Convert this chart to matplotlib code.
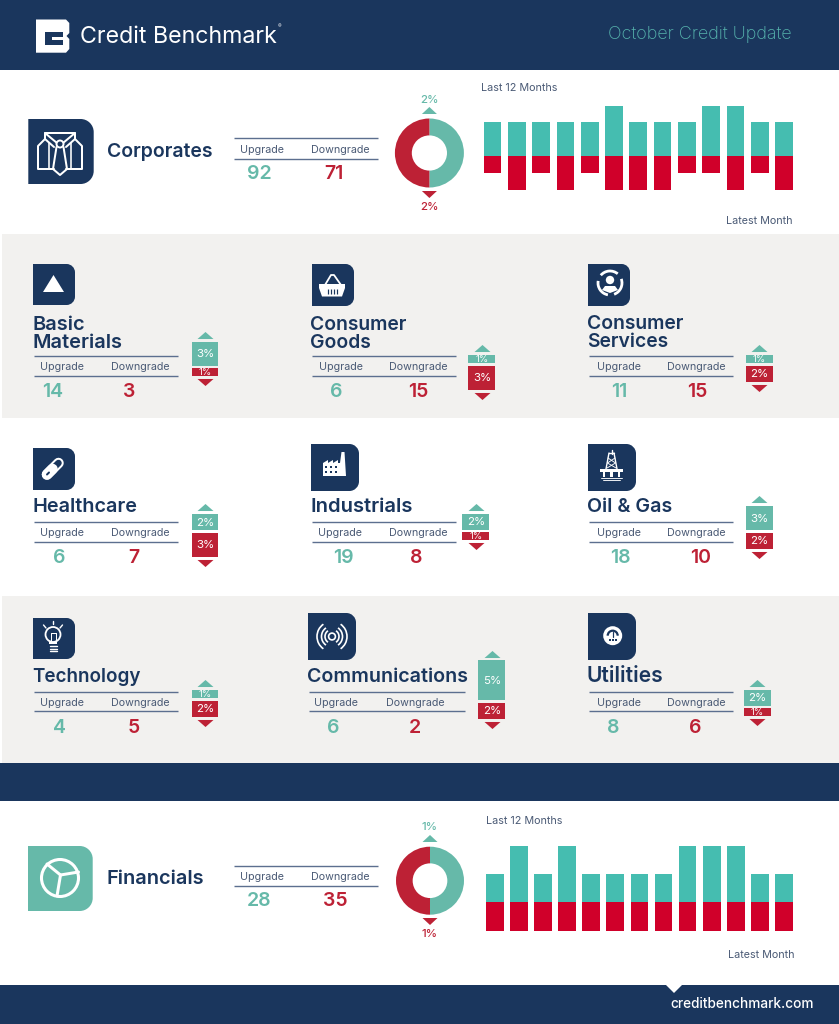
import matplotlib
matplotlib.use("Agg")
import matplotlib.pyplot as plt
import numpy as np
from matplotlib.path import Path
from matplotlib.patches import PathPatch, Polygon, Rectangle, Circle, Arc

plt.rcParams['font.family'] = ['Inter', 'DejaVu Sans']

# ---------- data ----------
corp_up_counts = 92
corp_down_counts = 71
corp_up_pct = 2
corp_down_pct = 2
corp_months_up = [2, 2, 2, 2, 2, 3, 2, 2, 2, 3, 3, 2, 2]
corp_months_down = [1, 2, 1, 2, 1, 2, 2, 2, 1, 1, 2, 1, 2]

fin_up_counts = 28
fin_down_counts = 35
fin_up_pct = 1
fin_down_pct = 1
fin_months_up = [1, 2, 1, 2, 1, 1, 1, 1, 2, 2, 2, 1, 1]
fin_months_down = [1, 1, 1, 1, 1, 1, 1, 1, 1, 1, 1, 1, 1]

sector_names = ['Basic\nMaterials', 'Consumer\nGoods', 'Consumer\nServices',
                'Healthcare', 'Industrials', 'Oil & Gas',
                'Technology', 'Communications', 'Utilities']
sector_up_counts = [14, 6, 11, 6, 19, 18, 4, 6, 8]
sector_down_counts = [3, 15, 15, 7, 8, 10, 5, 2, 6]
sector_up_pct = [3, 1, 1, 2, 2, 3, 1, 5, 2]
sector_down_pct = [1, 3, 2, 3, 1, 2, 2, 2, 1]

# ---------- style ----------
W, H = 839, 1024
NAVY = '#1a365d'
TEAL = '#66b9a9'
TEAL_BAR = '#45bdb0'
RED = '#bd2135'
RED_BAR = '#d0002a'
GREY = '#f2f1ef'
LABEL = '#4a5a75'
RULE = '#5c6f8f'

fig = plt.figure(figsize=(W / 100, H / 100), dpi=100)
bg = fig.add_axes([0, 0, 1, 1])
bg.set_xlim(0, W)
bg.set_ylim(H, 0)
bg.axis('off')


def px_axes(x0, y0, x1, y1):
    a = fig.add_axes([x0 / W, 1 - y1 / H, (x1 - x0) / W, (y1 - y0) / H])
    a.axis('off')
    a.patch.set_alpha(0)
    return a


def txt(x, y, s, size, color=NAVY, weight='normal', ha='center', **kw):
    return bg.text(x, y + 1.2, s, fontsize=size * 0.72, color=color, fontweight=weight,
                   ha=ha, va='center', **kw)


def rect(x0, y0, x1, y1, color, z=1):
    bg.add_patch(Rectangle((x0, y0), x1 - x0, y1 - y0, fc=color, ec='none', zorder=z))


def poly(pts, color='white', z=3):
    bg.add_patch(Polygon(pts, closed=True, fc=color, ec='none', zorder=z))


def line(pts, lw=1.5, color='white', z=3, cap='round'):
    xs, ys = zip(*pts)
    bg.plot(xs, ys, color=color, lw=lw * 0.72, zorder=z, solid_capstyle=cap, solid_joinstyle='round')


def icon_box(x0, y0, x1, y1, color=NAVY):
    r = (x1 - x0) * 0.2
    k = r * 0.45
    verts = [(x0, y0), (x1 - r, y0), (x1 - k, y0), (x1, y0 + k), (x1, y0 + r),
             (x1, y1 - r), (x1, y1 - k), (x1 - k, y1), (x1 - r, y1),
             (x0, y1), (x0, y0)]
    codes = [Path.MOVETO, Path.LINETO, Path.CURVE4, Path.CURVE4, Path.CURVE4,
             Path.LINETO, Path.CURVE4, Path.CURVE4, Path.CURVE4,
             Path.LINETO, Path.CLOSEPOLY]
    bg.add_patch(PathPatch(Path(verts, codes), fc=color, ec='none', zorder=2))


# ---------- bands ----------
rect(0, 0, W, 70, NAVY)
rect(2, 234, W, 418, GREY)
rect(2, 596, W, 763, GREY)
rect(0, 763, W, 801, NAVY)
rect(0, 985, W, H, NAVY)
poly([(666, 985), (682, 985), (674, 993)], 'white', 2)

# ---------- header ----------
logo = [(36, 19.5), (66, 19.5), (69.3, 23), (69.3, 33), (66.5, 36), (69.3, 39), (69.3, 49), (66, 52.7), (36, 52.7)]
poly(logo, 'white', 2)
poly([(44.5, 31.5), (63, 31.5), (63, 36.5), (52, 36.5), (52, 40), (63, 40), (63, 45), (44.5, 45)], NAVY, 3)
txt(80, 36, 'Credit Benchmark', 23.2, 'white', 'normal', ha='left')
txt(278, 25.5, '®', 5.5, 'white', ha='left')
txt(792, 33, 'October Credit Update', 18, '#57b5ae', 'light', ha='right')
txt(814, 1003, 'creditbenchmark.com', 13.6, 'white', 'medium', ha='right')


# ---------- shared drawing ----------
def table(x0, x1, y0, y1, xu, xd, vu, vd, up, down, yval):
    for y in (y0, y1):
        line([(x0, y), (x1, y)], 1.4, RULE, 3, 'butt')
    ym = (y0 + y1) / 2
    txt(xu, ym, 'Upgrade', 10.7, LABEL)
    txt(xd, ym, 'Downgrade', 10.7, LABEL)
    txt(vu, yval, str(up), 19.5, TEAL, 'semibold')
    txt(vd, yval, str(down), 19.5, RED, 'semibold')


def donut(cx, cy, r, up, down, yup, ydn, ytu, ytd):
    a = px_axes(cx - r, cy - r, cx + r, cy + r)
    a.pie([up, down], colors=[TEAL, RED], startangle=90, counterclock=False, radius=1,
          wedgeprops=dict(width=0.49, linewidth=0))
    a.set_xlim(-1, 1)
    a.set_ylim(-1, 1)
    txt(cx, yup, f'{up}%', 11.5, TEAL, 'medium')
    txt(cx, ydn, f'{down}%', 11.5, RED, 'medium')
    poly([(cx - 7.5, ytu + 7), (cx + 7.5, ytu + 7), (cx, ytu)], TEAL)
    poly([(cx - 7.5, ytd), (cx + 7.5, ytd), (cx, ytd + 7)], RED)


def month_bars(first_c, last_c, baseline, unit, width, ups, downs):
    pitch = (last_c - first_c) / (len(ups) - 1)
    x0, x1 = first_c - pitch, last_c + pitch
    top_u, bot_u = 3.5, 2.5
    a = px_axes(x0, baseline - top_u * unit, x1, baseline + bot_u * unit)
    idx = np.arange(len(ups))
    a.bar(idx, ups, width=width / pitch, color=TEAL_BAR, linewidth=0)
    a.bar(idx, [-d for d in downs], width=width / pitch, color=RED_BAR, linewidth=0)
    a.set_xlim(-1, len(ups))
    a.set_ylim(-bot_u, top_u)


def sector_bar(cx, yb, up, down):
    u = 8.0
    gap = 0.16
    ext_up, ext_dn = up + 2, down + 2
    a = px_axes(cx - 13.5, yb - ext_up * u, cx + 13.5, yb + ext_dn * u)
    a.bar(0, up, bottom=gap, width=1, color=TEAL, linewidth=0)
    a.bar(0, -down, bottom=-gap, width=1, color=RED, linewidth=0)
    a.set_xlim(-0.5, 0.5)
    a.set_ylim(-ext_dn, ext_up)
    a.plot(0, up + gap + 0.85, marker=[(-1, -0.44), (1, -0.44), (0, 0.44)], ms=11.5, color=TEAL, mew=0)
    a.plot(0, -down - gap - 0.75, marker=[(-1, 0.44), (1, 0.44), (0, -0.44)], ms=11.5, color=RED, mew=0)
    a.text(0, gap + up / 2 - 0.05, f'{up}%', color='white', ha='center', va='center',
           fontsize=(9.5 if up == 1 else 11.5) * 0.72)
    a.text(0, -gap - down / 2 - 0.05, f'{down}%', color='white', ha='center', va='center',
           fontsize=(9.5 if down == 1 else 11.5) * 0.72)


# ---------- corporates ----------
icon_box(28.3, 119, 93.7, 184)
txt(107, 150.5, 'Corporates', 19.4, NAVY, 'semibold', ha='left')
table(234, 378, 138, 159, 262, 340, 259, 334, corp_up_counts, corp_down_counts, 173)
donut(429.4, 153, 34.5, corp_up_pct, corp_down_pct, 99, 206, 107, 191)
month_bars(492.5, 784, 156, 16.8, 17.7, corp_months_up, corp_months_down)
txt(481, 87, 'Last 12 Months', 10.8, LABEL, ha='left')
txt(792, 220, 'Latest Month', 10.8, LABEL, ha='right')

# ---------- financials ----------
icon_box(28, 846, 92.7, 911, TEAL)
txt(107, 877.5, 'Financials', 20, NAVY, 'semibold', ha='left')
table(234, 378, 866, 886, 262, 340, 259, 335, fin_up_counts, fin_down_counts, 900)
donut(430, 880.7, 34, fin_up_pct, fin_down_pct, 826, 933, 835, 918)
month_bars(494.8, 784, 902.3, 28.4, 17.7, fin_months_up, fin_months_down)
txt(486, 820, 'Last 12 Months', 10.8, LABEL, ha='left')
txt(795, 954, 'Latest Month', 10.8, LABEL, ha='right')

# ---------- sector layout ----------
layout = [
    # icon box, title x, title y(s), title size, table x0,x1, y0,y1, upgrade x, downgrade x, val x up, val x down, val y, bar cx, bar baseline
    ((33, 264, 75, 305), 33, (323.5, 341.5), 20, 34, 178, 356, 376, 62, 140, 53, 129, 391, 205, 367),
    ((312, 264, 354, 306), 310, (323.5, 341.5), 19.3, 312, 456, 356, 376, 341, 418, 336, 418, 391, 482, 364.5),
    ((588, 264, 630, 306), 587, (322.5, 340.5), 19.3, 589, 733, 356, 376, 619, 696, 619, 697, 391, 759, 364.5),
    ((33, 448, 75, 490), 33, (505.5,), 19.8, 34, 178, 522, 542, 62, 140, 59, 134, 557, 205, 531.5),
    ((311, 444, 359, 491), 310, (505.5,), 20.2, 312, 456, 522, 542, 340, 418, 343, 416, 557, 476, 531),
    ((588, 444, 636, 491), 587, (505.5,), 19.6, 589, 733, 522, 542, 619, 696, 620, 701, 557, 759, 531.5),
    ((33, 618, 75, 659), 32, (675.5,), 18.8, 34, 178, 692, 711, 62, 140, 59, 134, 727, 205, 699.5),
    ((308, 613, 356, 660), 307, (675.5,), 19.6, 309, 465, 692, 711, 336, 415, 333, 415, 727, 492, 701.7),
    ((588, 613, 636, 660), 587, (674.5,), 21, 589, 733, 692, 711, 619, 696, 613, 695, 727, 757, 707),
]
for i, L in enumerate(layout):
    box, tx, tys, ts, x0, x1, y0, y1, xu, xd, vu, vd, yv, cx, yb = L
    icon_box(*box)
    for part, ty in zip(sector_names[i].split('\n'), tys):
        txt(tx, ty, part, ts, NAVY, 'semibold', ha='left')
    table(x0, x1, y0, y1, xu, xd, vu, vd, sector_up_counts[i], sector_down_counts[i], yv)
    sector_bar(cx, yb, sector_up_pct[i], sector_down_pct[i])

# ---------- icons ----------
# shirt (corporates)
line([(66, 169), (82, 169), (82, 146), (75, 139), (75, 133), (45, 133), (45, 139), (38, 146), (38, 169), (54, 169)], 2)
line([(45, 133), (57, 143)], 2)
line([(75, 133), (63, 143)], 2)
line([(45, 139), (54, 147)], 2)
line([(75, 139), (66, 147)], 2)
line([(49, 143), (49, 169)], 1.6)
line([(71, 143), (71, 169)], 1.6)
line([(56.5, 147), (53, 169), (60, 175), (67, 169), (63.5, 147)], 2)
bg.add_patch(Circle((60, 144), 3.5, fc=NAVY, ec='white', lw=1.4, zorder=4))

# triangle
poly([(53.5, 275), (43, 292), (64, 292)])

# basket
line([(325, 285), (331, 275), (334, 275), (341, 285)], 1.8)
poly([(319, 284), (345, 284), (345, 288), (342, 296.5), (322, 296.5), (319, 288)])
for dx in (-5, -2, 1, 4):
    line([(333 + dx, 289), (333 + dx, 294)], 1.2, NAVY, 4, 'butt')

# services
for t1, t2 in ((100, 190), (220, 310), (340, 430)):
    bg.add_patch(Arc((610, 283), 24, 24, theta1=t1, theta2=t2, color='white', lw=2, zorder=3))
bg.add_patch(Circle((610, 280), 4.2, fc='white', ec='none', zorder=3))
poly([(602, 290), (605, 286), (615, 286), (618, 290), (610, 293)])

# pill
line([(47, 474.5), (58.5, 463)], 10.5)
line([(47, 474.5), (58.5, 463)], 6.5, NAVY, 4)
line([(47, 474.5), (52.5, 469)], 10.5, 'white', 5)
line([(47, 474.5), (49, 472.5)], 2, NAVY, 6)

# factory
poly([(323, 476), (323, 463), (328, 460), (328, 463), (333, 460), (333, 463), (338, 460), (338, 463),
      (340, 463), (341.5, 452), (344.5, 452), (346, 476)])
for wx in (326, 331, 336):
    for wy in (467, 472):
        rect(wx - 1.1, wy - 1.3, wx + 1.1, wy + 1.3, NAVY, 4)

# oil rig
line([(609, 453), (606, 469)], 1.4)
line([(614, 453), (617, 469)], 1.4)
line([(609, 453), (614, 453)], 1.4)
line([(611.5, 450), (611.5, 454)], 1.4)
line([(608, 458), (615.5, 463), (607, 468)], 0.9)
line([(615, 458), (607.5, 463), (616, 468)], 0.9)
rect(600, 469, 623, 472, 'white', 3)
for lx in (604, 611.5, 619):
    rect(lx - 1.1, 472, lx + 1.1, 477, 'white', 3)
line([(601, 477.5), (622, 477.5)], 0.9)
line([(603, 480), (620, 480)], 0.9)

# bulb
bg.add_patch(Circle((53, 634.5), 7.5, fc='none', ec='white', lw=1.3, zorder=3))
rect(49, 642, 57, 644, 'white', 3)
for wy in (646, 648.5, 651):
    line([(49.5, wy), (56.5, wy)], 1.4)
line([(50.5, 633), (50.5, 642)], 1)
line([(55.5, 633), (55.5, 642)], 1)
line([(50.5, 633), (55.5, 633)], 1)
line([(53, 621), (53, 624)], 1.4)
line([(43.5, 625), (46, 628)], 1.4)
line([(62.5, 625), (60, 628)], 1.4)

# signal
bg.add_patch(Circle((332, 636.5), 3.4, fc='none', ec='white', lw=1.2, zorder=3))
for d in (14, 21, 30):
    bg.add_patch(Arc((332, 636.5), d, d, theta1=125, theta2=235, color='white', lw=1.2, zorder=3))
    bg.add_patch(Arc((332, 636.5), d, d, theta1=-55, theta2=55, color='white', lw=1.2, zorder=3))

# gauge
bg.add_patch(Circle((612.7, 635.7), 9.5, fc='white', ec='none', zorder=3))
bg.add_patch(Arc((612.7, 635.7), 10, 10, theta1=180, theta2=360, color=NAVY, lw=1.6, zorder=4))
line([(612.7, 637), (612.7, 632)], 1.2, NAVY, 5)
for dx in (-3, 0, 3):
    rect(612.7 + dx - 1, 639, 612.7 + dx + 1, 641, NAVY, 5)

# financial pie
bg.add_patch(Circle((60, 878), 18.5, fc='none', ec='white', lw=2.2, zorder=3))
line([(60.5, 875), (47, 864)], 3)
line([(60.5, 875), (78.5, 872)], 3)
line([(60.5, 875), (57, 896)], 3)

fig.savefig('out.png', dpi=100)
